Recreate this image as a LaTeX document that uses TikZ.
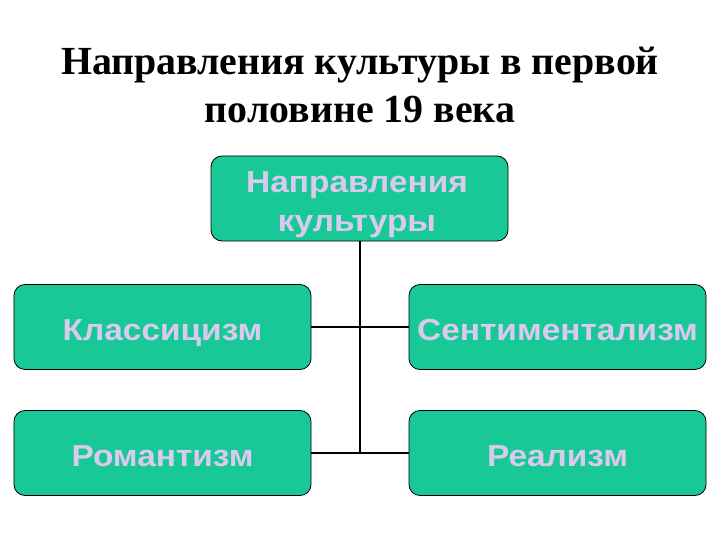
\documentclass[tikz,border=0pt]{standalone}
\usepackage{graphicx}
\usepackage{fontspec}
\setmainfont{Liberation Serif}
\newfontfamily\boxfont{Liberation Sans}
\newcommand{\wide}[1]{\scalebox{1.1}[1]{#1}}
\definecolor{boxgreen}{RGB}{24,200,150}
\definecolor{boxtext}{RGB}{218,202,240}
\begin{document}
\begin{tikzpicture}[x=1bp,y=-1bp,
  gbox/.style={draw=black, line width=0.8bp, fill=boxgreen, rounded corners=11bp,
    minimum width=297bp, minimum height=85bp, inner sep=0pt,
    text=boxtext, font=\boxfont\bfseries\fontsize{30.5}{37}\selectfont,
    text height=26bp, text depth=0bp},
  btext/.style={inner sep=0pt, anchor=base, text=boxtext,
    font=\boxfont\bfseries\fontsize{30.5}{37}\selectfont},
  ttext/.style={inner sep=0pt, anchor=base, font=\bfseries\fontsize{40}{48}\selectfont},
  conn/.style={draw=black, line width=2bp}]
\useasboundingbox (0,0) rectangle (720,540);
\node[ttext] (title1) at (360,75) {Направления культуры в первой};
\node[ttext] (title2) at (360,123) {половине 19 века};
\node[gbox] (top) at (359.5,198.5) {};
\node[btext] (topl1) at (357,193) {\wide{Направления}};
\node[btext] (topl2) at (357,232) {\wide{культуры}};
\node[gbox] (klass) at (162.5,327) {\wide{Классицизм}};
\node[gbox] (sent) at (557.5,327) {\wide{Сентиментализм}};
\node[gbox] (rom) at (162.5,453) {\wide{Романтизм}};
\node[gbox] (real) at (557.5,453) {\wide{Реализм}};
\coordinate (j1) at (360,327);
\coordinate (j2) at (360,453);
\draw[conn] (top.south -| j1) -- (j2);
\draw[conn] (klass.east) -- (sent.west);
\draw[conn] (rom.east) -- (real.west);
\end{tikzpicture}
\end{document}
